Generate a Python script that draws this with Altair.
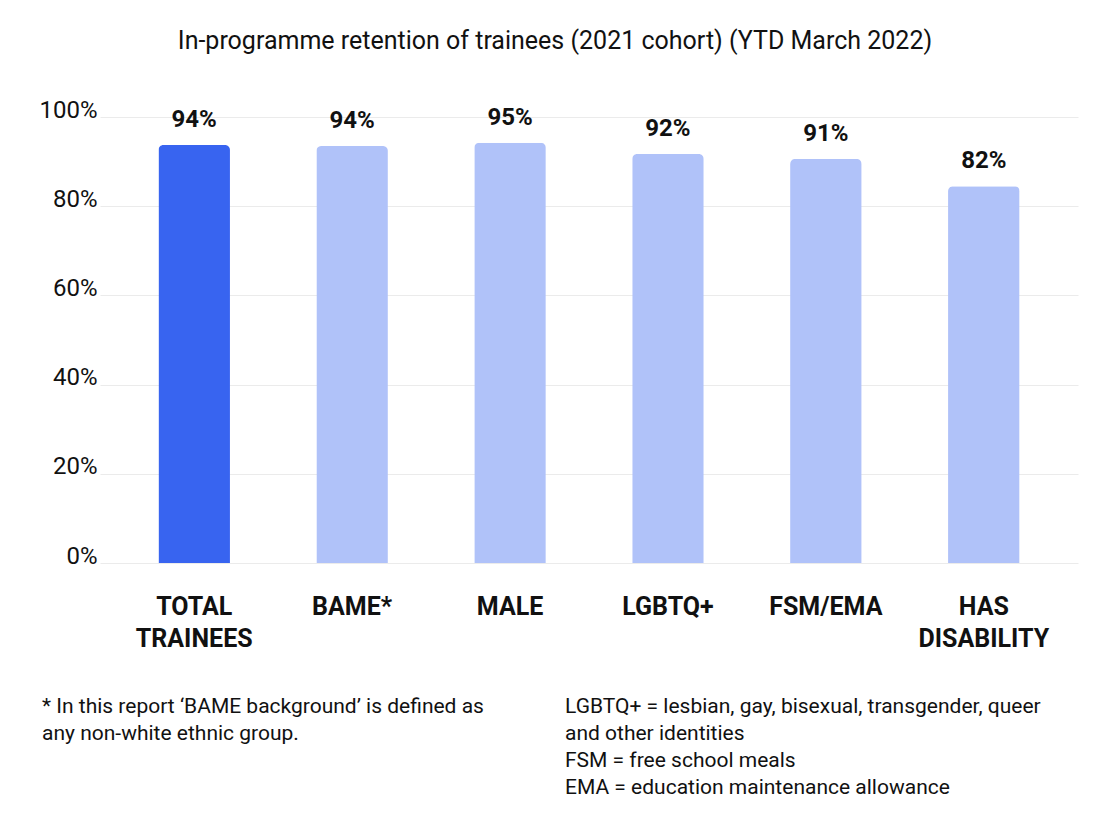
import altair as alt
import pandas as pd

categories = ["TOTAL TRAINEES", "BAME*", "MALE", "LGBTQ+", "FSM/EMA", "HAS DISABILITY"]
values = [0.937, 0.935, 0.942, 0.917, 0.906, 0.845]
labels = ["94%", "94%", "95%", "92%", "91%", "82%"]
groups = ["total", "sub", "sub", "sub", "sub", "sub"]
y_ticks = [0, 0.2, 0.4, 0.6, 0.8, 1.0]

title_text = "In-programme retention of trainees (2021 cohort) (YTD March 2022)"
note_left = "*  In this report \u2018BAME background\u2019 is defined as\nany non-white ethnic group."
note_right = ("LGBTQ+ = lesbian, gay, bisexual, transgender, queer\nand other identities\n"
              "FSM = free school meals\nEMA = education maintenance allowance")

df = pd.DataFrame({"cat": categories, "value": values, "label": labels, "group": groups})

FONT = "Roboto"
W, H = 978, 446

x = alt.X("cat:N", sort=categories, title=None,
          scale=alt.Scale(paddingInner=0.547, paddingOuter=0.37),
          axis=alt.Axis(labelExpr="split(datum.value, ' ')", labelAngle=0,
                        labelFontSize=25, labelFontWeight="bold", labelColor="#111111",
                        labelFont=FONT, labelLineHeight=32, labelPadding=31,
                        labelBaseline="top",
                        ticks=False, domain=False, grid=False))
y = alt.Y("value:Q", title=None,
          scale=alt.Scale(domain=[0, 1], nice=False),
          axis=alt.Axis(values=y_ticks, format=".0%", labelFontSize=24, labelFont=FONT,
                        labelColor="#111111", labelBaseline="alphabetic", labelPadding=3,
                        ticks=False, domain=False, grid=True, gridColor="#EBEBEB",
                        gridWidth=1))

base = alt.Chart(df)

bars = base.mark_bar(cornerRadiusTopLeft=5, cornerRadiusTopRight=5).encode(
    x=x, y=y,
    color=alt.Color("group:N", scale=alt.Scale(domain=["total", "sub"],
                                                range=["#3864F0", "#B0C2F9"]), legend=None),
)

text = base.mark_text(font=FONT, fontSize=24, fontWeight="bold", color="#111111",
                      baseline="alphabetic", dy=-18).encode(
    x=alt.X("cat:N", sort=categories), y="value:Q", text="label:N")

notes_l = alt.Chart(pd.DataFrame({"t": [note_left]})).mark_text(
    font=FONT, fontSize=21, color="#111111", align="left", baseline="alphabetic",
    lineBreak="\n", lineHeight=27).encode(
    x=alt.value(-58), y=alt.value(596), text="t:N")

notes_r = alt.Chart(pd.DataFrame({"t": [note_right]})).mark_text(
    font=FONT, fontSize=21, color="#111111", align="left", baseline="alphabetic",
    lineBreak="\n", lineHeight=27).encode(
    x=alt.value(465), y=alt.value(596), text="t:N")

chart = alt.layer(bars, text, notes_l, notes_r).properties(
    width=W, height=H,
    background="white",
    title=alt.TitleParams(title_text, font=FONT, fontSize=25, fontWeight="normal",
                          color="#111111", anchor="middle", dx=-34, frame="group",
                          offset=44),
    autosize=alt.AutoSizeParams(type="none"),
    padding={"left": 92, "top": 109, "right": 20, "bottom": 240},
).configure_view(strokeWidth=0, stroke="transparent")

chart.save("out.html", embed_options={"renderer": "svg", "actions": False})
